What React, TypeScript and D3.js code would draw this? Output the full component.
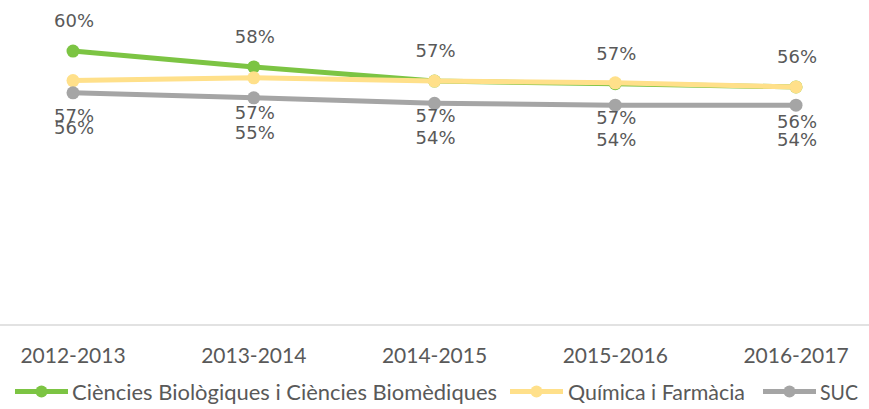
import React from "react";
import * as d3 from "d3";

const categories = ["2012-2013", "2013-2014", "2014-2015", "2015-2016", "2016-2017"];
const seriesNames = ["Ciències Biològiques i Ciències Biomèdiques", "Química i Farmàcia", "SUC"];
const bioValues = [60.15, 58.4, 56.85, 56.55, 56.2];
const quimValues = [56.9, 57.2, 56.85, 56.65, 56.2];
const sucValues = [55.55, 55.0, 54.4, 54.2, 54.2];
const yDomain = [30, 65];

const W = 869;
const H = 409;

export default function App() {
  const x = d3.scalePoint<string>().domain(categories).range([73, 796]);
  const y = d3.scaleLinear().domain(yDomain).range([325, 7]);

  const series = [
    { name: seriesNames[0], values: bioValues, color: "#7cc443", labelPos: "above" },
    { name: seriesNames[1], values: quimValues, color: "#ffe08a", labelPos: "below" },
    { name: seriesNames[2], values: sucValues, color: "#a5a5a5", labelPos: "below" },
  ];

  const line = d3
    .line<number>()
    .x((_, i) => x(categories[i]) as number)
    .y((d) => y(d));

  const legendItems = [
    { lineX: 15, textX: 72, textLen: 425 },
    { lineX: 510, textX: 568, textLen: 177 },
    { lineX: 763, textX: 820, textLen: 38 },
  ];

  const textColor = "#595959";

  return (
    <svg
      width={W}
      height={H}
      style={{ position: "absolute", left: 0, top: 0, background: "#fff" }}
    >
      <rect x={0} y={0} width={W} height={H} fill="#ffffff" />
      {/* category axis line */}
      <line x1={0} x2={W} y1={y(yDomain[0])} y2={y(yDomain[0])} stroke="#d9d9d9" strokeWidth={1.5} />
      {categories.map((c) => (
        <text
          key={c}
          x={x(c)}
          y={363}
          textAnchor="middle"
          fontFamily="Lato, 'Open Sans', sans-serif"
          fontSize={21}
          fill={textColor}
        >
          {c}
        </text>
      ))}

      {series.map((s) => (
        <g key={s.name}>
          <path d={line(s.values) || ""} fill="none" stroke={s.color} strokeWidth={5} strokeLinejoin="round" strokeLinecap="round" />
          {s.values.map((v, i) => (
            <circle key={i} cx={x(categories[i])} cy={y(v)} r={6.5} fill={s.color} />
          ))}
        </g>
      ))}

      {series.map((s) => (
        <g key={s.name + "-labels"}>
          {s.values.map((v, i) => (
            <text
              key={i}
              x={(x(categories[i]) as number) + 1}
              y={s.labelPos === "above" ? y(v) - 24 : y(v) + 41}
              textAnchor="middle"
              fontFamily="'DejaVu Sans', Verdana, sans-serif"
              fontSize={18}
              fill={textColor}
            >
              {Math.round(v) + "%"}
            </text>
          ))}
        </g>
      ))}

      {series.map((s, i) => {
        const li = legendItems[i];
        return (
          <g key={s.name + "-legend"}>
            <line x1={li.lineX} x2={li.lineX + 53} y1={391.5} y2={391.5} stroke={s.color} strokeWidth={5} />
            <circle cx={li.lineX + 26.5} cy={391.5} r={6} fill={s.color} />
            <text
              x={li.textX}
              y={400}
              fontFamily="Lato, 'Open Sans', sans-serif"
              fontSize={21}
              fill={textColor}
              textLength={li.textLen}
              lengthAdjust="spacingAndGlyphs"
            >
              {s.name}
            </text>
          </g>
        );
      })}
    </svg>
  );
}
